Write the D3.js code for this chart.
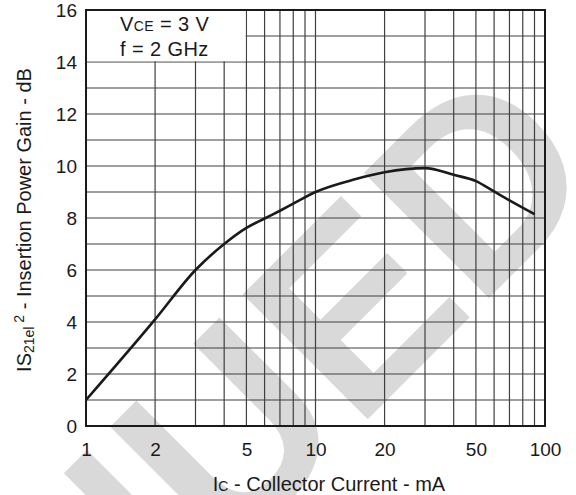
<!DOCTYPE html>
<html>
<head>
<meta charset="utf-8">
<script src="https://cdn.jsdelivr.net/npm/d3@7"></script>
<style>
  html, body { margin: 0; padding: 0; background: #fff; }
  svg { display: block; font-family: "Liberation Sans", Arial, Helvetica, sans-serif; }
</style>
</head>
<body>
<svg id="chart" width="576" height="495"></svg>
<script>
// ---- data ----
const currentMA = [1, 2, 3, 4, 5, 6, 7, 8, 10, 15, 20, 30, 40, 50, 60, 70, 90];
const gainDB    = [1.0, 4.1, 6.0, 7.0, 7.62, 7.98, 8.28, 8.55, 9.0, 9.5, 9.76, 9.92, 9.66, 9.42, 9.02, 8.68, 8.15];
const xTickValues = [1, 2, 5, 10, 20, 50, 100];
const yTickValues = [0, 2, 4, 6, 8, 10, 12, 14, 16];
const xGridValues = [2, 3, 4, 5, 6, 7, 8, 9, 10, 20, 30, 40, 50, 60, 70, 80, 90];
const yGridValues = [1, 2, 3, 4, 5, 6, 7, 8, 9, 10, 11, 12, 13, 14, 15];
const conditions = ["= 3 V", "f = 2 GHz"];
const watermarkText = "DISCONTINUED";

// ---- layout ----
const svg = d3.select("#chart");
const m = { left: 86, top: 10, right: 31, bottom: 69 };
const W = 576, H = 495;
const pw = W - m.left - m.right, ph = H - m.top - m.bottom;

const x = d3.scaleLog().domain([1, 100]).range([m.left, m.left + pw]);
const y = d3.scaleLinear().domain([0, 16]).range([m.top + ph, m.top]);

// watermark (behind everything)
svg.append("text")
  .attr("transform", "translate(608,179) rotate(-45)")
  .attr("text-anchor", "end")
  .attr("font-weight", "bold")
  .attr("font-size", 257)
  .attr("fill", "#d9d9d9")
  .text(watermarkText);

// grid
const gridColor = "#404040";
svg.append("g").selectAll("line").data(yGridValues).join("line")
  .attr("x1", m.left).attr("x2", m.left + pw)
  .attr("y1", d => y(d)).attr("y2", d => y(d))
  .attr("stroke", gridColor).attr("stroke-width", 1.2);
svg.append("g").selectAll("line").data(xGridValues).join("line")
  .attr("x1", d => x(d)).attr("x2", d => x(d))
  .attr("y1", m.top).attr("y2", m.top + ph)
  .attr("stroke", gridColor).attr("stroke-width", 1.2);

// legend box cover
svg.append("rect")
  .attr("x", m.left).attr("y", m.top)
  .attr("width", x(5) - m.left - 0.8).attr("height", y(14) - m.top - 0.8)
  .attr("fill", "#fff");

// legend text
const lg = svg.append("g").attr("font-size", 20).attr("fill", "#1a1a1a").attr("letter-spacing", 0.4);
const t1 = lg.append("text").attr("x", 120).attr("y", 30.5);
t1.append("tspan").text("V");
t1.append("tspan").attr("font-size", 14).text("CE");
t1.append("tspan").text(" " + conditions[0]);
lg.append("text").attr("x", 120).attr("y", 56).text(conditions[1]);

// frame
svg.append("rect")
  .attr("x", m.left).attr("y", m.top).attr("width", pw).attr("height", ph)
  .attr("fill", "none").attr("stroke", "#1a1a1a").attr("stroke-width", 2);

// curve
const line = d3.line().x(d => x(d[0])).y(d => y(d[1])).curve(d3.curveMonotoneX);
svg.append("path")
  .datum(currentMA.map((c, i) => [c, gainDB[i]]))
  .attr("d", line)
  .attr("fill", "none").attr("stroke", "#1a1a1a").attr("stroke-width", 2.6)
  .attr("stroke-linejoin", "round");

// axes
const xAxis = d3.axisBottom(x).tickValues(xTickValues).tickFormat(d3.format("d")).tickSize(0).tickPadding(17);
const gx = svg.append("g").attr("transform", `translate(0,${m.top + ph})`).call(xAxis);
gx.select(".domain").remove();
gx.selectAll("text").attr("font-size", 19).attr("fill", "#1a1a1a").attr("font-family", null);

const yAxis = d3.axisLeft(y).tickValues(yTickValues).tickFormat(d3.format("d")).tickSize(0).tickPadding(9);
const gy = svg.append("g").attr("transform", `translate(${m.left},0)`).call(yAxis);
gy.select(".domain").remove();
gy.selectAll("text").attr("font-size", 19).attr("fill", "#1a1a1a").attr("font-family", null);

// x title
const xt = svg.append("text").attr("x", 329).attr("y", 491)
  .attr("text-anchor", "middle").attr("font-size", 20).attr("fill", "#1a1a1a");
xt.append("tspan").text("I");
xt.append("tspan").attr("font-size", 14).text("C");
xt.append("tspan").text(" - Collector Current - mA");

// y title
const yt = svg.append("text").attr("transform", "translate(31,220) rotate(-90)")
  .attr("text-anchor", "middle").attr("font-size", 20).attr("fill", "#1a1a1a");
yt.append("tspan").text("IS");
yt.append("tspan").attr("font-size", 14).attr("dy", 3).text("21el");
yt.append("tspan").attr("font-size", 14).attr("dy", -10).text(" 2");
yt.append("tspan").attr("dy", 7).text(" - Insertion Power Gain - dB");
</script>
</body>
</html>
